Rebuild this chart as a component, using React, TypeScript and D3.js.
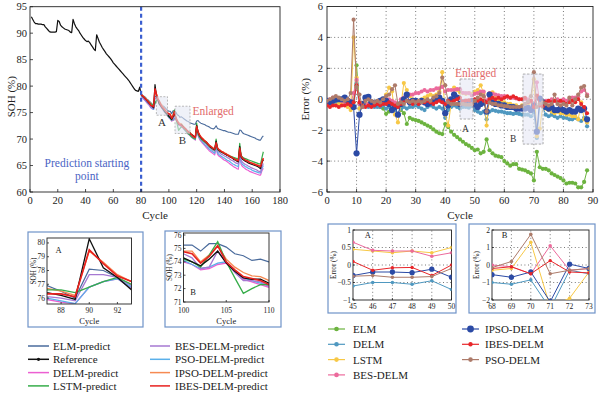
import React from "react";
import * as d3 from "d3";

const FONT = "'Liberation Serif','Times New Roman',serif";
const MINUS = "\u2212";
const fmt = (v: number) => (v < 0 ? MINUS + String(Math.abs(v)) : String(v));

// ---------- Left: SOH (%) vs cycle ----------
const refStart = 1;
const refSOH = [
  93.1, 92.6, 92.1, 91.8, 91.8, 91.7, 91.7, 91.7, 91.6, 91.6,
  91.2, 90.9, 90.6, 90.3, 90.2, 90.2, 90.2, 90.2, 90.3, 92.4,
  92.2, 91.5, 91.2, 91.0, 90.8, 90.7, 90.6, 90.5, 90.2, 90.1,
  92.6, 91.8, 91.2, 90.8, 90.5, 90.0, 89.6, 89.2, 88.9, 88.6,
  88.4, 88.5, 88.2, 87.8, 87.4, 87.0, 86.7, 89.7, 89.0, 88.3,
  87.8, 87.3, 86.9, 86.5, 86.1, 85.8, 85.5, 85.2, 84.8, 84.4,
  84.1, 83.8, 83.5, 83.2, 82.9, 82.6, 82.3, 82.0, 81.7, 81.4,
  81.1, 80.7, 80.3, 79.9, 79.5, 79.2, 79.1, 79.0, 79.8,
  78.4, 78.1, 77.9, 77.6, 77.3, 77.0, 76.7, 76.4, 76.2, 75.9,
  80.3, 78.2, 77.5, 76.6, 76.3, 75.9, 75.6, 75.2, 74.9, 74.6,
  74.3, 74.0, 73.7, 74.2, 74.8, 73.9, 73.3, 72.8, 72.7, 72.7,
  72.4, 72.1, 71.9, 71.6, 71.4, 71.2, 70.9, 70.7, 70.5, 70.3,
  72.6, 71.3, 70.7, 70.3, 70.0, 69.8, 69.6, 69.4, 69.1, 68.8,
  68.5, 68.3, 68.1, 68.0, 69.6, 68.2, 67.9, 67.7, 67.5, 67.4,
  67.2, 67.1, 66.9, 66.8, 66.6, 66.5, 66.3, 66.1, 66.0, 65.8,
  65.7, 68.6, 66.6, 66.2, 66.0, 65.8, 65.7, 65.5, 65.4, 65.3,
  65.2, 65.1, 65.0, 64.9, 64.8, 64.6, 64.4, 65.6, 66.1,
];

const predStart = 80;
const elmPred = [
  78.5, 78.3, 78.1, 77.9, 77.6, 77.4, 77.1, 76.9, 76.5, 76.0,
  78.1, 78.0, 77.5, 76.7, 76.6, 76.4, 76.2, 76.0, 75.7, 75.4,
  75.25, 75.25, 74.8, 75.35, 75.35, 75.1, 74.6, 74.45, 74.1, 74.2,
  74.0, 73.8, 73.6, 73.4, 73.3, 73.1, 73.0, 72.9, 72.8, 72.8,
  73.4, 73.5, 73.2, 73.0, 72.9, 72.8, 72.7, 72.5, 72.4, 72.3,
  72.1, 72.0, 71.9, 72.1, 72.5, 72.0, 71.9, 71.8, 71.7, 71.6,
  71.6, 71.5, 71.4, 71.3, 71.3, 71.2, 71.1, 71.0, 70.9, 70.9,
  70.9, 71.7, 71.6, 71.2, 71.0, 70.9, 70.8, 70.7, 70.6, 70.5,
  70.4, 70.3, 70.2, 70.0, 69.9, 69.8, 69.8, 70.3, 70.6,
];
const ibesPred = [
  78.4, 78.2, 77.9, 77.6, 77.4, 77.1, 76.8, 76.3, 76.3, 76.1,
  79.5, 78.5, 77.6, 77.2, 76.6, 76.1, 75.8, 75.5, 75.2, 74.9,
  74.75, 74.6, 73.9, 74.4, 75.2, 74.0, 73.4, 72.9, 72.75, 72.6,
  72.3, 72.1, 71.9, 71.6, 71.3, 71.1, 70.9, 70.6, 70.4, 70.3,
  72.4, 71.3, 70.8, 70.4, 70.1, 69.8, 69.6, 69.4, 69.1, 68.8,
  68.6, 68.4, 68.2, 68.1, 69.3, 68.3, 68.0, 67.8, 67.6, 67.5,
  67.3, 67.2, 67.0, 66.9, 66.7, 66.6, 66.4, 66.3, 66.1, 66.0,
  65.9, 68.3, 66.8, 66.4, 66.2, 66.0, 65.9, 65.8, 65.6, 65.5,
  65.4, 65.3, 65.2, 65.1, 65.0, 64.9, 64.8, 65.7, 66.4,
];
const ipsoPred = [
  78.5, 78.3, 78.0, 77.8, 77.5, 77.2, 77.0, 76.7, 76.5, 76.2,
  79.4, 78.6, 77.7, 77.2, 76.8, 76.4, 76.0, 75.7, 75.3, 75.0,
  74.8, 74.8, 74.0, 74.5, 75.2, 74.2, 73.6, 73.2, 72.95, 72.9,
  72.6, 72.3, 72.0, 71.7, 71.5, 71.3, 71.0, 70.8, 70.6, 70.4,
  72.3, 71.5, 70.9, 70.5, 70.2, 70.0, 69.7, 69.5, 69.2, 68.9,
  68.7, 68.5, 68.3, 68.2, 69.2, 68.4, 68.1, 67.9, 67.7, 67.6,
  67.4, 67.3, 67.1, 67.0, 66.8, 66.7, 66.5, 66.4, 66.2, 66.1,
  66.0, 68.1, 66.9, 66.5, 66.3, 66.1, 66.0, 65.9, 65.7, 65.6,
  65.5, 65.4, 65.3, 65.2, 65.1, 65.0, 64.9, 65.6, 66.2,
];
const lstmPred = [
  78.3, 78.1, 77.9, 77.7, 77.4, 77.2, 76.9, 76.6, 76.6, 76.4,
  76.8, 77.2, 77.5, 77.0, 76.5, 76.0, 75.6, 75.2, 74.9, 74.5,
  74.2, 74.0, 73.6, 74.5, 75.5, 74.0, 72.8, 71.65, 72.0, 72.3,
  72.3, 71.9, 71.6, 71.3, 71.0, 70.8, 70.5, 70.3, 70.1, 70.0,
  73.0, 71.0, 70.4, 70.1, 69.8, 69.6, 69.4, 69.2, 68.9, 68.6,
  68.4, 68.2, 68.0, 67.9, 70.0, 68.0, 67.8, 67.6, 67.5, 67.4,
  67.3, 67.2, 67.0, 66.9, 66.8, 66.7, 66.6, 66.5, 66.4, 66.3,
  66.2, 69.2, 66.9, 66.6, 66.4, 66.3, 66.2, 66.1, 66.0, 65.9,
  65.8, 65.7, 65.6, 65.5, 65.4, 65.3, 65.3, 66.5, 67.6,
];
const besPred = [
  78.3, 78.0, 77.7, 77.4, 77.1, 76.8, 76.5, 76.1, 76.0, 75.8,
  77.7, 77.7, 77.5, 76.9, 76.4, 76.0, 75.7, 75.3, 75.0, 74.8,
  74.6, 74.3, 73.5, 73.6, 74.8, 74.0, 73.2, 72.6, 72.6, 72.5,
  72.2, 71.9, 71.6, 71.3, 71.1, 70.9, 70.6, 70.4, 70.2, 70.0,
  72.0, 71.0, 70.4, 70.0, 69.7, 69.5, 69.2, 69.0, 68.7, 68.4,
  68.2, 68.0, 67.8, 67.7, 69.0, 67.8, 67.5, 67.3, 67.1, 67.0,
  66.8, 66.7, 66.5, 66.4, 66.2, 66.0, 65.9, 65.7, 65.5, 65.4,
  65.3, 67.8, 66.0, 65.6, 65.4, 65.2, 65.1, 64.9, 64.8, 64.6,
  64.5, 64.4, 64.3, 64.2, 64.0, 63.9, 63.8, 64.8, 65.4,
];
const delmPred = [
  78.1, 77.8, 77.5, 77.2, 76.9, 76.6, 76.3, 75.9, 75.7, 75.6,
  76.8, 77.2, 77.4, 76.7, 76.2, 75.8, 75.4, 75.0, 74.7, 74.4,
  74.0, 73.8, 73.4, 73.5, 73.8, 73.9, 73.3, 72.7, 72.5, 72.3,
  72.1, 71.8, 71.5, 71.2, 70.9, 70.7, 70.4, 70.2, 70.0, 69.8,
  71.6, 70.6, 70.0, 69.6, 69.3, 69.0, 68.7, 68.4, 68.1, 67.8,
  67.6, 67.4, 67.2, 67.0, 68.5, 67.1, 66.8, 66.6, 66.4, 66.2,
  66.0, 65.9, 65.7, 65.5, 65.3, 65.1, 64.9, 64.7, 64.6, 64.4,
  64.3, 67.2, 65.2, 64.8, 64.6, 64.4, 64.2, 64.1, 63.9, 63.8,
  63.7, 63.6, 63.5, 63.4, 63.3, 63.2, 63.2, 64.0, 64.5,
];
const psoPred = [
  78.2, 77.9, 77.6, 77.3, 77.0, 76.7, 76.4, 76.0, 75.8, 75.6,
  76.8, 77.2, 77.4, 76.8, 76.3, 75.9, 75.5, 75.1, 74.8, 74.5,
  74.1, 73.8, 73.5, 73.6, 73.9, 74.0, 73.3, 72.8, 72.6, 72.4,
  72.2, 71.9, 71.6, 71.3, 71.0, 70.8, 70.5, 70.3, 70.1, 69.9,
  71.8, 70.8, 70.2, 69.8, 69.5, 69.2, 68.9, 68.7, 68.4, 68.1,
  67.9, 67.7, 67.5, 67.3, 68.8, 67.4, 67.1, 66.9, 66.7, 66.5,
  66.4, 66.2, 66.0, 65.9, 65.7, 65.5, 65.3, 65.2, 65.0, 64.9,
  64.8, 67.6, 65.6, 65.2, 65.0, 64.8, 64.7, 64.5, 64.4, 64.3,
  64.1, 64.0, 63.9, 63.8, 63.7, 63.6, 63.6, 64.4, 65.0,
];

// ---------- Right: Error (%) vs cycle index ----------
const errStart = 0;
const errELM = [
  -0.1, -0.2, -0.1, -0.2, -0.1, 0.0, -0.1, -0.2, -0.3, -0.2,
  2.2, -0.3, -0.3, -0.2, -0.3, -0.3, -0.4, -0.4, -0.5, -0.6,
  -0.94, -0.8, -0.6, -0.6, -0.5, -0.7, -0.9, -1.6, -1.2, -1.3,
  -1.35, -1.4, -1.5, -1.6, -1.7, -1.8, -1.95, -2.1, -2.2, -2.25,
  -1.6, -1.8, -2.1, -2.3, -2.45, -2.6, -2.75, -2.9, -3.0, -3.15,
  -3.3, -3.25, -3.5, -3.4, -2.6, -3.3, -3.5, -3.65, -3.7, -3.75,
  -4.0, -4.15, -4.3, -4.2, -4.2, -4.5, -4.55, -4.6, -4.7, -4.8,
  -5.25, -3.4, -4.4, -4.5, -4.5, -4.6, -4.8, -4.9, -5.0, -5.1,
  -5.25, -5.45, -5.4, -5.4, -5.45, -5.7, -5.7, -5.35, -4.6,
];
const errDELM = [
  -0.2, -0.3, -0.2, -0.3, -0.3, -0.2, -0.3, -0.3, -0.4, -0.5,
  1.0, -0.6, -0.5, -0.4, -0.5, -0.4, -0.5, -0.5, -0.5, -0.4,
  -0.6, -0.5, -0.4, -0.7, -1.0, -0.6, -0.5, -0.6, -0.5, -0.5,
  -0.4, -0.5, -0.6, -0.7, -0.5, -0.4, -0.5, -0.6, -0.5, -0.6,
  -1.2, -0.7, -0.5, -0.4, -0.5, -0.6, -0.5, -0.5, -0.55, -0.45,
  -0.7, -0.8, -0.9, -0.8, -1.3, -0.8, -0.7, -0.75, -0.8, -0.8,
  -0.85, -0.9, -0.9, -0.95, -0.9, -0.95, -1.0, -1.0, -1.0, -1.1,
  -0.85, -2.5, -0.3, -0.5, -1.0, -1.1, -1.0, -1.1, -1.2, -1.1,
  -1.2, -1.2, -1.3, -1.3, -1.2, -1.3, -1.4, -1.2, -1.75,
];
const errLSTM = [
  -0.2, -0.3, -0.2, -0.4, -0.3, -0.2, -0.3, -0.5, -0.7, 4.0,
  1.4, -0.6, -0.3, -0.2, -0.3, -0.4, -0.3, -0.2, -0.3, -0.2,
  0.3, 0.75, 0.5, -1.0, -1.5, -0.4, 1.05, 0.6, 0.2, 0.0,
  -0.2, -0.1, 0.0, 0.1, 0.2, 0.3, 0.2, 0.3, 0.5, 1.75,
  -1.0, -1.7, -0.3, 0.75, 0.6, 0.45, 0.4, 0.35, 0.4, 0.35,
  0.5, 0.6, 0.9, 0.4, -1.7, 0.2, 0.45, 0.2, 0.0, -0.1,
  -0.2, -0.3, -0.3, -0.4, -0.4, -0.5, -0.4, -0.5, -0.3, -0.2,
  1.3, -2.4, -1.9, -0.4, -0.6, -0.7, -0.8, -0.9, -0.8, -0.9,
  -0.9, -1.0, -1.0, -1.1, -1.1, -1.3, -0.2, -1.3, -1.5,
];
const errBES = [
  -0.1, 0.0, 0.1, 0.1, 0.0, -0.1, -0.2, -0.2, -0.3, 0.4,
  1.25, -0.3, -0.5, -0.4, -0.3, -0.3, -0.2, -0.2, -0.1, -0.1,
  -0.1, 0.0, -0.1, -0.2, -0.3, 0.0, 0.1, 0.2, 0.3, 0.3,
  0.4, 0.4, 0.5, 0.6, 0.5, 0.6, 0.6, 0.7, 0.7, 0.8,
  0.5, 0.6, 0.6, 0.6, 0.65, 0.65, 0.42, 0.4, 0.4, 0.25,
  0.35, 0.4, 0.5, 0.5, -0.1, 0.4, 0.35, 0.3, 0.25, 0.2,
  0.2, 0.15, 0.1, 0.1, 0.05, 0.0, 0.0, 0.0, 0.0, -0.1,
  -0.5, 1.1, -0.3, -0.2, -0.1, -0.1, 0.0, -0.1, 0.0, -0.1,
  0.0, -0.1, 0.0, 0.1, 0.1, 0.2, 0.5, 0.6, 0.3,
];
const errIPSO = [
  -0.1, -0.2, -0.1, 0.0, 0.0, 0.0, 0.1, -0.1, -0.2, -0.5,
  -3.5, -1.0, -0.3, 0.1, 0.15, -0.2, -0.3, -0.2, -0.1, 0.0,
  -0.1, -0.3, -0.7, -0.5, -1.0, -0.3, 0.0, 0.3, -0.2, -0.1,
  -0.1, -0.2, -0.1, -0.2, -0.3, -0.2, -0.1, 0.0, 0.1, -0.1,
  -0.9, -0.4, 0.0, 0.3, 0.1, -0.3, -0.2, -0.2, -0.22, -0.12,
  -0.35, -0.5, -0.3, -0.2, -0.8, 0.3, -0.2, -0.3, -0.3, -0.4,
  -0.4, -0.5, -0.5, -0.5, -0.6, -0.6, -0.6, -0.6, -0.55, -0.7,
  -0.4, -2.1, 0.05, -0.2, -0.5, -0.6, -0.5, -0.7, -0.7, -0.6,
  -0.7, -0.8, -0.7, -0.8, -0.8, -0.6, -0.7, -0.6, -1.3,
];
const errIBES = [
  -0.4, -0.5, -0.4, -0.4, -0.5, -0.4, -0.4, -0.3, -0.4, -0.2,
  0.9, -0.2, -0.4, -0.5, -0.4, -0.5, -0.4, -0.3, -0.4, -0.3,
  -0.3, -0.2, -0.3, -0.4, -0.5, -0.3, -0.2, -0.1, -0.2, -0.3,
  -0.2, -0.3, -0.2, -0.2, -0.1, -0.2, -0.3, -0.2, -0.1, -0.2,
  -0.3, -0.1, -0.2, -0.1, 0.0, 0.1, -0.15, -0.08, -0.07, -0.3,
  0.0, -0.1, 0.0, -0.1, -0.2, 0.0, 0.1, 0.0, 0.1, 0.0,
  0.1, 0.2, 0.1, 0.2, 0.1, 0.0, 0.0, 0.1, -0.2, -0.1,
  -0.5, 0.25, -0.4, -0.45, -0.2, -0.1, -0.2, -0.1, -0.2, -0.1,
  -0.2, -0.3, -0.2, -0.1, -0.2, 0.0, -0.3, -0.5, -0.9,
];
const errPSO = [
  -0.1, 0.0, 0.1, 0.2, 0.1, 0.0, -0.1, 0.0, 0.4, 5.15,
  0.8, 0.3, -0.5, -0.1, 0.0, -0.1, -0.2, -0.1, -0.2, 0.0,
  0.2, 0.3, 0.65, 0.9, -0.3, -0.2, -0.3, -0.1, -0.2, -0.1,
  -0.2, -0.1, -0.2, -0.1, 0.0, -0.1, 0.1, 0.2, 0.4, 1.4,
  0.9, -0.2, -0.3, -0.3, -0.3, -0.32, -0.3, -0.35, -0.35, -0.33,
  -0.1, 0.1, 0.3, 0.2, -0.8, -0.2, -0.3, -0.3, -0.4, -0.4,
  -0.45, -0.45, -0.5, -0.5, -0.5, -0.5, -0.45, -0.3, -0.15, 0.2,
  1.75, -0.5, -0.3, -0.2, -0.3, -0.4, -0.3, 0.3, -0.3, -0.4,
  -0.3, -0.4, 0.1, -0.4, 0.0, 0.3, 0.75, 0.85, 0.2,
];

// ticks
const mainSohTicks = [60, 65, 70, 75, 80, 85, 90, 95];
const mainCycleTicks = [0, 20, 40, 60, 80, 100, 120, 140, 160, 180];
const errTicks = [-6, -4, -2, 0, 2, 4, 6];
const errCycleTicks = [0, 10, 20, 30, 40, 50, 60, 70, 80, 90];
const insetASohTicks = [76, 77, 78, 79, 80];
const insetACycleTicks = [88, 90, 92];
const insetBSohTicks = [71, 72, 73, 74, 75, 76];
const insetBCycleTicks = [100, 105, 110];
const errATicks = [-1, -0.5, 0, 0.5, 1];
const errACycleTicks = [45, 46, 47, 48, 49, 50];
const errBTicks = [-2, -1, 0, 1, 2];
const errBCycleTicks = [68, 69, 70, 71, 72, 73];

// enlarged-region boxes (data units)
const leftBoxA = { x0: 91, x1: 99, y0: 74.5, y1: 78.0, label: "A" };
const leftBoxB = { x0: 104.4, x1: 115.2, y0: 71.05, y1: 76.2, label: "B" };
const errBoxA = { x0: 45, x1: 49.4, y0: -1.28, y1: 1.31, label: "A" };
const errBoxB = { x0: 66.3, x1: 73.1, y0: -2.9, y1: 1.63, label: "B" };
const predictionStart = 80;

type Series = { name: string; color: string; values: number[]; start: number; w: number };

const leftDrawOrder: Series[] = [
  { name: "ELM-predict", color: "#4a6b9c", values: elmPred, start: predStart, w: 1.1 },
  { name: "DELM-predict", color: "#ec5fd2", values: delmPred, start: predStart, w: 1.2 },
  { name: "PSO-DELM-predict", color: "#5ab0ea", values: psoPred, start: predStart, w: 1.2 },
  { name: "BES-DELM-predict", color: "#a679d2", values: besPred, start: predStart, w: 1.2 },
  { name: "IPSO-DELM-predict", color: "#f68a52", values: ipsoPred, start: predStart, w: 1.2 },
  { name: "LSTM-predict", color: "#36ad4a", values: lstmPred, start: predStart, w: 1.2 },
  { name: "Reference", color: "#111111", values: refSOH, start: refStart, w: 1.2 },
  { name: "IBES-DELM-predict", color: "#e8201e", values: ibesPred, start: predStart, w: 1.5 },
];
const leftLegendCol1 = ["ELM-predict", "Reference", "DELM-predict", "LSTM-predict"];
const leftLegendCol2 = ["BES-DELM-predict", "PSO-DELM-predict", "IPSO-DELM-predict", "IBES-DELM-predict"];

const errSeries: (Series & { r: number })[] = [
  { name: "ELM", color: "#6cb33f", values: errELM, start: errStart, w: 1, r: 2.1 },
  { name: "DELM", color: "#4f98c0", values: errDELM, start: errStart, w: 1, r: 2.1 },
  { name: "LSTM", color: "#f7c846", values: errLSTM, start: errStart, w: 1, r: 2.1 },
  { name: "BES-DELM", color: "#ec6a9c", values: errBES, start: errStart, w: 1, r: 2.1 },
  { name: "IPSO-DELM", color: "#2b4aa5", values: errIPSO, start: errStart, w: 1, r: 3.1 },
  { name: "IBES-DELM", color: "#e8262a", values: errIBES, start: errStart, w: 1, r: 2.0 },
  { name: "PSO-DELM", color: "#ad7b6a", values: errPSO, start: errStart, w: 1, r: 2.1 },
];
const errLegendCol1 = ["ELM", "DELM", "LSTM", "BES-DELM"];
const errLegendCol2 = ["IPSO-DELM", "IBES-DELM", "PSO-DELM"];

type Sc = d3.ScaleLinear<number, number>;

function pathOf(s: Series, x: Sc, y: Sc) {
  return (
    d3
      .line<number>()
      .x((_, i) => x(s.start + i))
      .y((v) => y(v))(s.values) || ""
  );
}

function Frame(p: {
  x: Sc; y: Sc; xTicks: number[]; yTicks: number[]; fs: number; tl: number;
  grid?: boolean; xLabDy: number; yLabDx: number; xFmt?: (v: number) => string;
}) {
  const [xa, xb] = p.x.range();
  const [ya, yb] = p.y.range();
  const xf = p.xFmt || fmt;
  return (
    <g fontFamily={FONT} fill="#222">
      {p.grid &&
        p.xTicks
          .filter((t) => p.x(t) > xa + 1 && p.x(t) < xb - 1)
          .map((t) => (
            <line key={"gx" + t} x1={p.x(t)} x2={p.x(t)} y1={ya} y2={yb} stroke="#555" strokeWidth={0.8} strokeDasharray="1 2.6" />
          ))}
      {p.grid &&
        p.yTicks
          .filter((t) => p.y(t) < ya - 1 && p.y(t) > yb + 1)
          .map((t) => (
            <line key={"gy" + t} x1={xa} x2={xb} y1={p.y(t)} y2={p.y(t)} stroke="#555" strokeWidth={0.8} strokeDasharray="1 2.6" />
          ))}
      <rect x={xa} y={yb} width={xb - xa} height={ya - yb} fill="none" stroke="#222" strokeWidth={0.9} />
      {p.xTicks.map((t) => (
        <g key={"xt" + t}>
          <line x1={p.x(t)} x2={p.x(t)} y1={ya} y2={ya - p.tl} stroke="#222" strokeWidth={0.8} />
          <text x={p.x(t)} y={ya + p.xLabDy} fontSize={p.fs} textAnchor="middle">{xf(t)}</text>
        </g>
      ))}
      {p.yTicks.map((t) => (
        <g key={"yt" + t}>
          <line x1={xa} x2={xa + p.tl} y1={p.y(t)} y2={p.y(t)} stroke="#222" strokeWidth={0.8} />
          <text x={xa - p.yLabDx} y={p.y(t)} fontSize={p.fs} textAnchor="end" dominantBaseline="central">{fmt(t)}</text>
        </g>
      ))}
    </g>
  );
}

function ClipRect({ id, x, y }: { id: string; x: Sc; y: Sc }) {
  const [xa, xb] = x.range();
  const [ya, yb] = y.range();
  return (
    <clipPath id={id}>
      <rect x={xa} y={yb} width={xb - xa} height={ya - yb} />
    </clipPath>
  );
}

function ErrMarks({ x, y, scaleR }: { x: Sc; y: Sc; scaleR: number }) {
  return (
    <g>
      {errSeries.map((s) => (
        <g key={s.name}>
          <path d={pathOf(s, x, y)} fill="none" stroke={s.color} strokeWidth={s.w} />
          {s.values.map((v, i) => (
            <circle key={i} cx={x(s.start + i)} cy={y(v)} r={s.r * scaleR} fill={s.color} />
          ))}
        </g>
      ))}
    </g>
  );
}

export default function App() {
  // main left
  const xL = d3.scaleLinear().domain([0, 180]).range([30, 280]);
  const yL = d3.scaleLinear().domain([60, 95]).range([192, 6.7]);
  // main right
  const xR = d3.scaleLinear().domain([0, 90]).range([327, 593]);
  const yR = d3.scaleLinear().domain([-6, 6]).range([192, 6.5]);
  // insets left
  const xLA = d3.scaleLinear().domain([87, 93]).range([47, 131.5]);
  const yLA = d3.scaleLinear().domain([75.57, 80.36]).range([304, 238]);
  const xLB = d3.scaleLinear().domain([100, 110]).range([183.5, 269]);
  const yLB = d3.scaleLinear().domain([71, 76.15]).range([302, 233]);
  // insets right
  const xEA = d3.scaleLinear().domain([45, 50]).range([353, 451.5]);
  const yEA = d3.scaleLinear().domain([-1, 1]).range([300, 230]);
  const xEB = d3.scaleLinear().domain([68, 73]).range([492, 589]);
  const yEB = d3.scaleLinear().domain([-2, 2]).range([300, 230]);

  const byName = (n: string) => leftDrawOrder.find((s) => s.name === n)!;
  const errByName = (n: string) => errSeries.find((s) => s.name === n)!;

  const boxRect = (b: typeof leftBoxA, x: Sc, y: Sc) => ({
    x: x(b.x0), y: y(b.y1), width: x(b.x1) - x(b.x0), height: y(b.y0) - y(b.y1),
  });

  const leftInsetLines = (x: Sc, y: Sc, clip: string, wScale: number) => (
    <g clipPath={`url(#${clip})`}>
      {leftDrawOrder.map((s) => (
        <path key={s.name} d={pathOf(s, x, y)} fill="none" stroke={s.color} strokeWidth={s.w * wScale} />
      ))}
    </g>
  );

  const frameColor = "#6f93c9";

  return (
    <svg width={600} height={394} style={{ position: "fixed", left: 0, top: 0, background: "#fff" }} fontFamily={FONT}>
      <rect x={0} y={0} width={600} height={394} fill="#fff" />
      <defs>
        <ClipRect id="clipL" x={xL} y={yL} />
        <ClipRect id="clipR" x={xR} y={yR} />
        <ClipRect id="clipLA" x={xLA} y={yLA} />
        <ClipRect id="clipLB" x={xLB} y={yLB} />
        <ClipRect id="clipEA" x={xEA} y={yEA} />
        <ClipRect id="clipEB" x={xEB} y={yEB} />
      </defs>

      {/* ===== Main left ===== */}
      <g clipPath="url(#clipL)">
        {leftDrawOrder.map((s) => (
          <path key={s.name} d={pathOf(s, xL, yL)} fill="none" stroke={s.color} strokeWidth={s.w} strokeLinejoin="round" />
        ))}
      </g>
      {[leftBoxA, leftBoxB].map((b) => {
        const r = boxRect(b, xL, yL);
        return (
          <g key={"lb" + b.label}>
            <rect {...r} fill="#e4e7f4" fillOpacity={0.6} stroke="#a9a9a9" strokeWidth={0.8} strokeDasharray="2 1.5" />
            <text x={r.x + r.width / 2} y={r.y + r.height + 11} fontSize={11} fill="#333" textAnchor="middle">{b.label}</text>
          </g>
        );
      })}
      <text x={xL(117)} y={yL(74.6)} fontSize={11.5} fill="#e26a6a">Enlarged</text>
      <line x1={xL(predictionStart)} x2={xL(predictionStart)} y1={yL(95)} y2={yL(60)} stroke="#3b5fd0" strokeWidth={2.2} strokeDasharray="4 3" />
      <text x={xL(41)} y={167} fontSize={11.5} fill="#4a63c4" textAnchor="middle">Prediction starting</text>
      <text x={xL(41)} y={180} fontSize={11.5} fill="#4a63c4" textAnchor="middle">point</text>
      <Frame x={xL} y={yL} xTicks={mainCycleTicks} yTicks={mainSohTicks} fs={10.5} tl={3} xLabDy={12} yLabDx={3} />
      <text x={xL(90)} y={219} fontSize={11} textAnchor="middle" fill="#222">Cycle</text>
      <text transform={`translate(11,${yL(78)}) rotate(-90)`} fontSize={11} textAnchor="middle" dominantBaseline="central" fill="#222">SOH (%)</text>

      {/* ===== Main right ===== */}
      <Frame x={xR} y={yR} xTicks={errCycleTicks} yTicks={errTicks} fs={10.5} tl={3} grid xLabDy={12} yLabDx={4} />
      <g clipPath="url(#clipR)">
        <ErrMarks x={xR} y={yR} scaleR={1} />
      </g>
      {[errBoxA, errBoxB].map((b) => {
        const r = boxRect(b, xR, yR);
        return (
          <g key={"eb" + b.label}>
            <rect {...r} fill="#e6e8f5" fillOpacity={0.6} stroke="#999" strokeWidth={0.8} strokeDasharray="2.5 1.5" />
          </g>
        );
      })}
      <text x={xR(46.8)} y={yR(-2.1)} fontSize={9.5} fill="#333" textAnchor="middle">A</text>
      <text x={xR(63)} y={yR(-2.75)} fontSize={9.5} fill="#333" textAnchor="middle">B</text>
      <text x={xR(43.3)} y={yR(1.45)} fontSize={11.5} fill="#e26a6a">Enlarged</text>
      <text x={xR(45)} y={219} fontSize={11} textAnchor="middle" fill="#222">Cycle</text>
      <text transform={`translate(305,${yR(0)}) rotate(-90)`} fontSize={11} textAnchor="middle" dominantBaseline="central" fill="#222">Error (%)</text>

      {/* ===== Inset frames ===== */}
      <rect x={28} y={232} width={115} height={95} fill="none" stroke={frameColor} strokeWidth={1.2} />
      <rect x={165} y={231} width={116} height={96} fill="none" stroke={frameColor} strokeWidth={1.2} />
      <rect x={328} y={224} width={128} height={89} fill="none" stroke={frameColor} strokeWidth={1.2} />
      <rect x={469} y={224} width={126} height={89} fill="none" stroke={frameColor} strokeWidth={1.2} />

      {/* Inset A (SOH) */}
      {leftInsetLines(xLA, yLA, "clipLA", 1.1)}
      <Frame x={xLA} y={yLA} xTicks={insetACycleTicks} yTicks={insetASohTicks} fs={7.5} tl={2} xLabDy={9} yLabDx={2} />
      <text x={xLA(87.6)} y={yLA(79.3)} fontSize={8.5} fill="#222">A</text>
      <text x={xLA(90)} y={323.5} fontSize={8.5} textAnchor="middle" fill="#222">Cycle</text>
      <text transform={`translate(33.5,${(238 + 304) / 2}) rotate(-90)`} fontSize={7.2} textAnchor="middle" dominantBaseline="central" fill="#222">SOH (%)</text>

      {/* Inset B (SOH) */}
      {leftInsetLines(xLB, yLB, "clipLB", 1.1)}
      <Frame x={xLB} y={yLB} xTicks={insetBCycleTicks} yTicks={insetBSohTicks} fs={7.5} tl={2} xLabDy={10.5} yLabDx={2} />
      <text x={xLB(100.8)} y={yLB(71.55)} fontSize={8.5} fill="#222">B</text>
      <text x={xLB(105)} y={323.5} fontSize={8.5} textAnchor="middle" fill="#222">Cycle</text>
      <text transform={`translate(170,${(233 + 302) / 2}) rotate(-90)`} fontSize={7.2} textAnchor="middle" dominantBaseline="central" fill="#222">SOH (%)</text>

      {/* Inset A (Error) */}
      <Frame x={xEA} y={yEA} xTicks={errACycleTicks} yTicks={errATicks} fs={7.5} tl={2} grid xLabDy={9} yLabDx={2} />
      <g clipPath="url(#clipEA)">
        <ErrMarks x={xEA} y={yEA} scaleR={0.85} />
      </g>
      <text x={xEA(45.6)} y={yEA(0.78)} fontSize={8.5} fill="#222">A</text>
      <text transform={`translate(334,265) rotate(-90)`} fontSize={7.2} textAnchor="middle" dominantBaseline="central" fill="#222">Error (%)</text>

      {/* Inset B (Error) */}
      <Frame x={xEB} y={yEB} xTicks={errBCycleTicks} yTicks={errBTicks} fs={7.5} tl={2} grid xLabDy={9} yLabDx={2} />
      <g clipPath="url(#clipEB)">
        <ErrMarks x={xEB} y={yEB} scaleR={0.85} />
      </g>
      <text x={xEB(68.5)} y={yEB(1.55)} fontSize={8.5} fill="#222">B</text>
      <text transform={`translate(477,265) rotate(-90)`} fontSize={7.2} textAnchor="middle" dominantBaseline="central" fill="#222">Error (%)</text>

      {/* ===== Left legend ===== */}
      {[leftLegendCol1, leftLegendCol2].map((col, ci) =>
        col.map((n, ri) => {
          const s = byName(n);
          const lx0 = ci === 0 ? 28 : 150;
          const lx1 = ci === 0 ? 49 : 170;
          const tx = ci === 0 ? 53 : 175;
          const yy = 346 + ri * 13.3;
          return (
            <g key={n}>
              <line x1={lx0} x2={lx1} y1={yy} y2={yy} stroke={s.color} strokeWidth={1.5} />
              {n === "Reference" && <circle cx={(lx0 + lx1) / 2} cy={yy} r={1.6} fill="#111" />}
              <text x={tx} y={yy} fontSize={11} dominantBaseline="central" fill="#222">{n}</text>
            </g>
          );
        })
      )}

      {/* ===== Right legend ===== */}
      {[errLegendCol1, errLegendCol2].map((col, ci) =>
        col.map((n, ri) => {
          const s = errByName(n);
          const lx0 = ci === 0 ? 328 : 462;
          const lx1 = ci === 0 ? 345 : 479;
          const tx = ci === 0 ? 353 : 485;
          const yy = 329 + ri * 15.3;
          return (
            <g key={n}>
              <line x1={lx0} x2={lx1} y1={yy} y2={yy} stroke={s.color} strokeWidth={1.2} />
              <circle cx={(lx0 + lx1) / 2} cy={yy} r={s.r * 1.1} fill={s.color} />
              <text x={tx} y={yy} fontSize={11} dominantBaseline="central" fill="#222">{n}</text>
            </g>
          );
        })
      )}
    </svg>
  );
}
